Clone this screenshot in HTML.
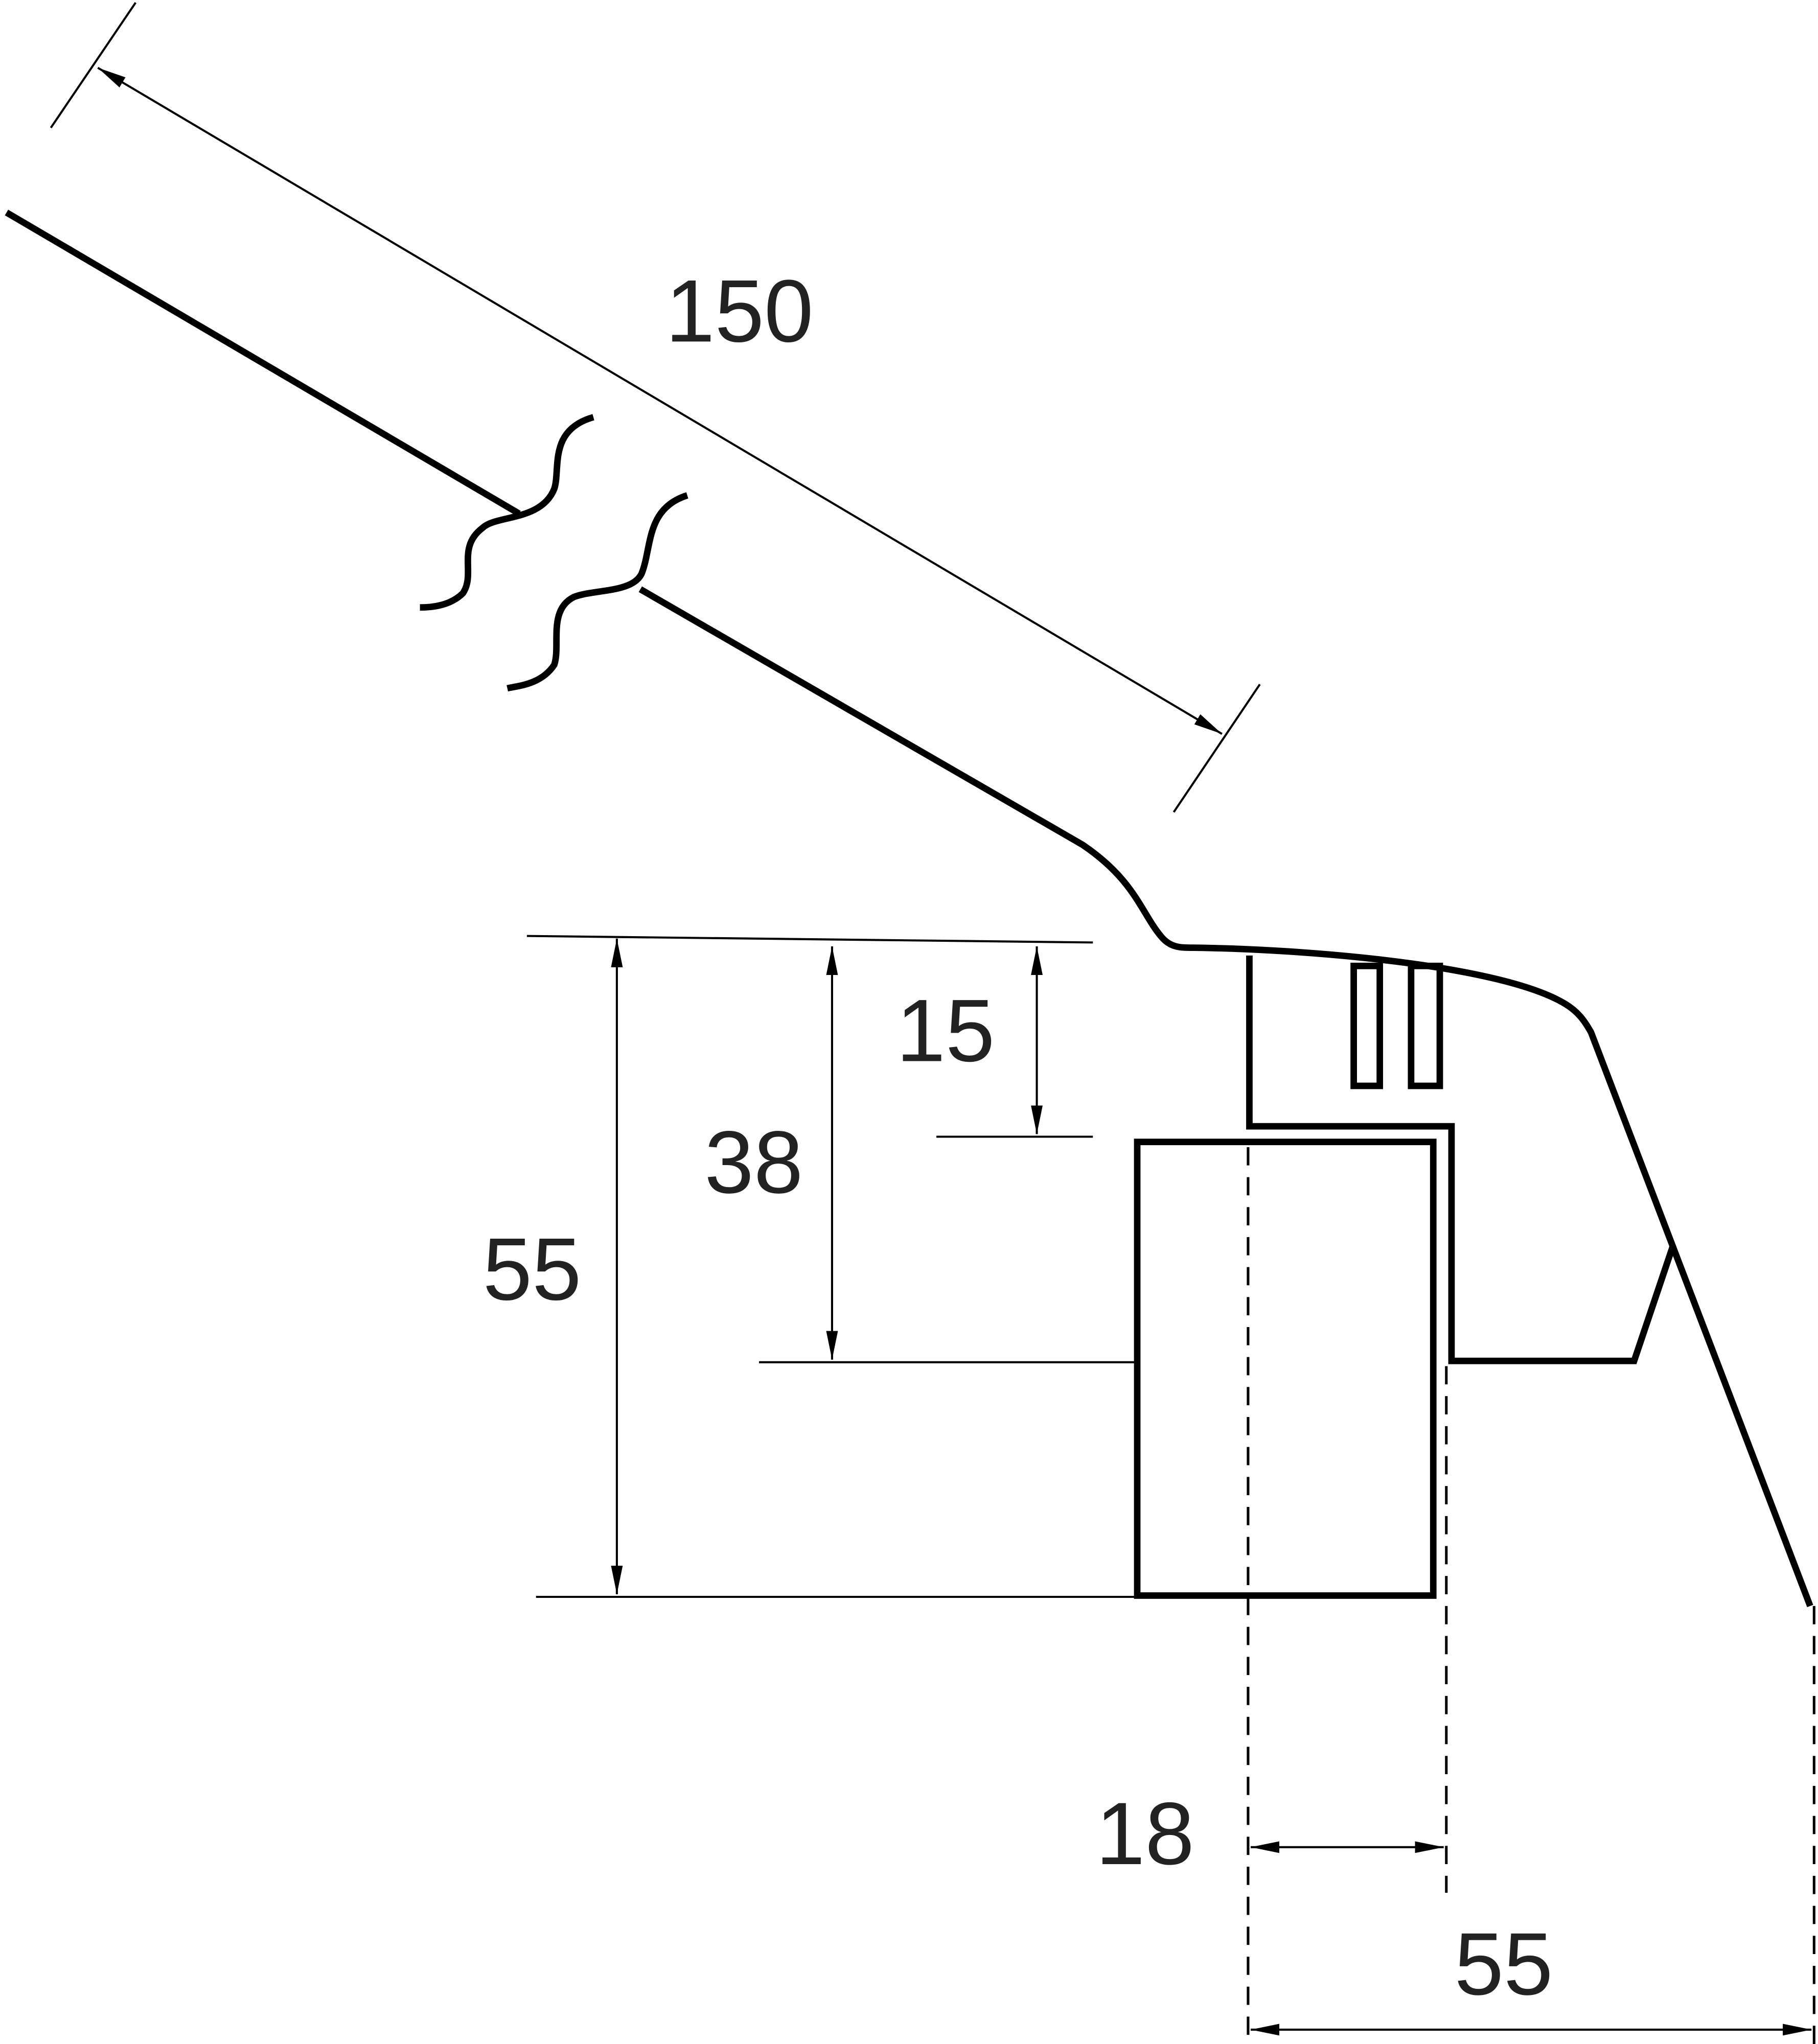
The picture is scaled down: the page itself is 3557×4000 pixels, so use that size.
<!DOCTYPE html>
<html><head><meta charset="utf-8"><style>
html,body{margin:0;padding:0;background:#fff;}
svg{display:block;}
text{font-family:"Liberation Sans",sans-serif;font-size:68px;fill:#222;}
</style></head><body>
<svg width="3557" height="4000" viewBox="0 0 1394 1568" preserveAspectRatio="none" xmlns="http://www.w3.org/2000/svg">
<defs>
<marker id="a" viewBox="0 0 22 10" refX="22" refY="5" markerWidth="22" markerHeight="10" markerUnits="userSpaceOnUse" orient="auto-start-reverse">
<path d="M0,0.5 L22,5 L0,9.5 z" fill="#000"/></marker>
</defs>
<g fill="none" stroke="#000" stroke-width="5" stroke-linejoin="miter">
<line x1="5" y1="163" x2="398" y2="394"/>
<path d="M455,320 C420,330 430,360 425,375 C415,400 380,395 370,405 C350,420 365,440 355,455 C345,465 330,466 322,466"/>
<path d="M527,380 C495,390 500,420 492,440 C485,455 455,452 440,458 C420,468 430,495 425,510 C415,525 398,526 389,528"/>
<path d="M491,452 L830,648 C870,675 875,700 890,718 C897,727 905,727 915,727 C1000,728 1150,740 1200,770 C1210,776 1215,783 1220,792 L1388,1232"/>
<polyline points="958,733 958,864 1113,864 1113,1044 1253,1044 1283,955"/>
<rect x="1038" y="741" width="20" height="92"/>
<rect x="1082" y="741" width="22" height="92"/>
<rect x="872" y="876" width="227" height="348"/>
</g>
<g fill="none" stroke="#000" stroke-width="2" stroke-dasharray="14,9">
<line x1="957" y1="880" x2="957" y2="1568"/>
<line x1="1109" y1="1048" x2="1109" y2="1452"/>
<line x1="1391" y1="1232" x2="1391" y2="1568"/>
</g>
<g fill="none" stroke="#000" stroke-width="1.6">
<line x1="404" y1="718" x2="838" y2="723"/>
<line x1="718" y1="872" x2="838" y2="872"/>
<line x1="582" y1="1045" x2="872" y2="1045"/>
<line x1="411" y1="1225" x2="872" y2="1225"/>
<line x1="39" y1="98" x2="104" y2="2"/>
<line x1="900" y1="623" x2="966" y2="525"/>
<line x1="473" y1="720" x2="473" y2="1223" marker-start="url(#a)" marker-end="url(#a)"/>
<line x1="638" y1="726" x2="638" y2="1043" marker-start="url(#a)" marker-end="url(#a)"/>
<line x1="795" y1="726" x2="795" y2="870" marker-start="url(#a)" marker-end="url(#a)"/>
<line x1="75" y1="52" x2="937" y2="563" marker-start="url(#a)" marker-end="url(#a)"/>
<line x1="959" y1="1417" x2="1107" y2="1417" marker-start="url(#a)" marker-end="url(#a)"/>
<line x1="959" y1="1557" x2="1389" y2="1557" marker-start="url(#a)" marker-end="url(#a)"/>
</g>
<text x="567" y="262" text-anchor="middle">150</text>
<text x="725" y="814" text-anchor="middle">15</text>
<text x="578" y="915" text-anchor="middle">38</text>
<text x="408" y="997" text-anchor="middle">55</text>
<text x="878" y="1430" text-anchor="middle">18</text>
<text x="1153" y="1530" text-anchor="middle">55</text>
</svg>
</body></html>
